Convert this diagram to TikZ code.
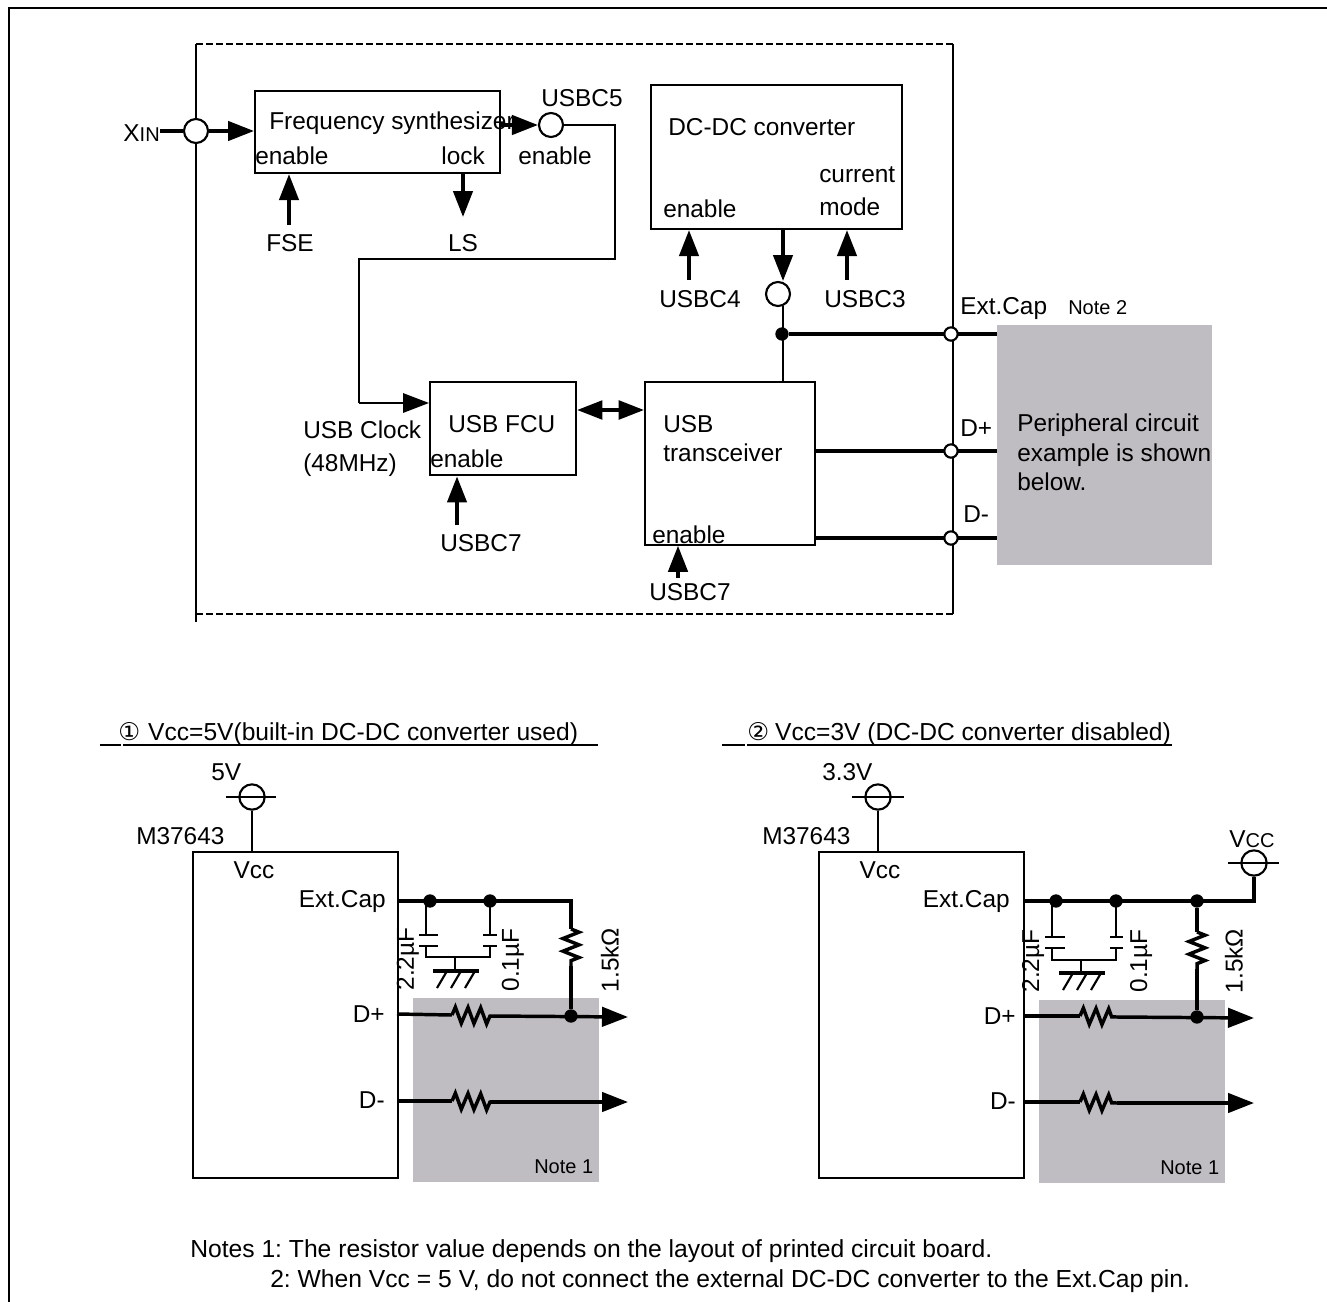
\documentclass[tikz,border=0pt]{standalone}
\usepackage{fontspec}
\setmainfont{Liberation Sans}
\newfontfamily\symfont{DejaVu Sans}
\usepackage{xcolor}
\usetikzlibrary{arrows.meta,positioning,calc,decorations.pathmorphing}
\definecolor{ink}{HTML}{000000}
\definecolor{periphbg}{HTML}{C0BDC2}
\frenchspacing
\tikzset{
  wire/.style={draw=ink,line width=1.6pt},
  bus/.style={draw=ink,line width=2.6pt},
  sig/.style={bus,-{Triangle[length=19.5pt,width=14.5pt]}},
  blockbox/.style={wire,fill=white,rectangle,inner sep=0pt},
  pinring/.style={wire,fill=white,circle,inner sep=0pt,minimum size=18pt},
  portring/.style={wire,fill=white,circle,inner sep=0pt,minimum size=10pt},
  joint/.style={fill=ink,circle,inner sep=0pt,minimum size=10pt},
  txt/.style={inner sep=0pt,font=\fontsize{18.3}{22}\selectfont},
  small/.style={inner sep=0pt,font=\fontsize{15}{18}\selectfont},
  notetxt/.style={inner sep=0pt,font=\fontsize{18.5}{22}\selectfont},
  titletxt/.style={inner sep=0pt,font=\fontsize{18.45}{22}\selectfont},
  resistor/.style={bus,line join=miter,decorate,decoration={zigzag,segment length=9.5pt,amplitude=6pt}},
  graybox/.style={fill=periphbg,rectangle,inner sep=0pt}
}
\begin{document}
\begin{tikzpicture}[x=0.75pt,y=-0.75pt]
  \useasboundingbox (0,0) rectangle (1327,1302);
  \coordinate (ftl) at (9,8); \coordinate (ftr) at (1327,8);
  \coordinate (fbl) at (9,1302);
  \draw[draw=ink,line width=2.2pt] (fbl) -- (ftl) -- (ftr);

  % chip outline
  \coordinate (chiptl) at (196,44); \coordinate (chiptr) at (953,44);
  \coordinate (chipbl) at (196,622); \coordinate (chipbr) at (953,614);
  \coordinate (chipbd) at (196,614);
  \draw[wire] (chiptl) -- (chipbl);
  \draw[wire] (chiptr) -- (chipbr);
  \draw[wire,dash pattern=on 5pt off 2.5pt] (chiptl) -- (chiptr);
  \draw[wire,dash pattern=on 5pt off 2.5pt] (chipbd) -- (chipbr);

  % peripheral block
  \node[graybox,minimum width=161pt,minimum height=180pt,anchor=north west] (periph) at (997,325) {};
  \node[txt,anchor=west] (periphA) at (1017,425) {Peripheral circuit};
  \node[txt,anchor=west] (periphB) at (1017,455) {example is shown};
  \node[txt,anchor=west] (periphC) at (1017,482) {below.};

  % blocks
  \node[blockbox,minimum width=184pt,minimum height=61.5pt,anchor=north west] (fsynth) at (254,90) {};
  \node[blockbox,minimum width=188pt,minimum height=108pt,anchor=north west] (dcdc) at (650,84) {};
  \node[blockbox,minimum width=109.5pt,minimum height=70pt,anchor=north west] (fcu) at (429,381) {};
  \node[blockbox,minimum width=127.5pt,minimum height=122pt,anchor=north west] (xcvr) at (644,381) {};

  \node[txt,anchor=west] (fsynthname) at (269,123) {Frequency synthesizer};
  \node[txt,anchor=west] at (255,156) {enable};
  \node[txt,anchor=east] at (485,156) {lock};
  \node[txt,anchor=west] at (668,127) {DC-DC converter};
  \node[txt,anchor=west] at (663,209) {enable};
  \node[txt,anchor=west] at (819,175) {current};
  \node[txt,anchor=west] at (819,207) {mode};
  \node[txt,anchor=west] at (448,424) {USB FCU};
  \node[txt,anchor=west] at (430,459) {enable};
  \node[txt,anchor=west] at (663,424) {USB};
  \node[txt,anchor=west] at (663,453) {transceiver};
  \node[txt,anchor=west] at (652,535) {enable};

  % clock path
  \node[anchor=east,inner sep=0pt] (xin) at (160,133) {\fontsize{18.3}{22}\selectfont X\fontsize{15}{18}\selectfont IN};
  \node[pinring] (xinpin) at (196,131) {};
  \draw[bus] (xin.east |- xinpin) -- (xinpin);
  \draw[sig] (xinpin) -- (fsynth.west |- xinpin);
  \node[pinring] (c5pin) at (551,125) {};
  \draw[sig] (fsynth.east |- c5pin) -- (c5pin);
  \node[txt] (c5name) at (582,98) {USBC5};
  \node[txt] (c5en) at (555,156) {enable};
  \coordinate (clkA) at (615,125); \coordinate (clkB) at (615,259);
  \coordinate (clkC) at (359,259); \coordinate (clkD) at (359,403);
  \draw[wire] (c5pin) -- (clkA) -- (clkB) -- (clkC) -- (clkD);
  \draw[sig,line width=1.6pt] (clkD) -- (fcu.west |- clkD);
  \node[txt,anchor=west] (clkname) at (303,430) {USB Clock};
  \node[txt,anchor=west] (clkrate) at (303,465) {(48MHz)};

  \node[txt] (fse) at (290,243) {FSE};
  \node[txt] (ls) at (463,243) {LS};
  \coordinate (fsetail) at (289,225); \coordinate (lshead) at (463,217);
  \draw[sig] (fsetail) -- (fsetail |- fsynth.south);
  \draw[sig] (lshead |- fsynth.south) -- (lshead);

  % dc-dc converter pins
  \node[txt] (c4) at (700,299) {USBC4};
  \node[txt] (c3) at (865,299) {USBC3};
  \coordinate (c4tail) at (689,280); \coordinate (c3tail) at (847,280);
  \draw[sig] (c4tail) -- (c4tail |- dcdc.south);
  \draw[sig] (c3tail) -- (c3tail |- dcdc.south);
  \node[pinring] (dcpin) at (778,294) {};
  \coordinate (dchead) at (783,281);
  \draw[sig] (dchead |- dcdc.south) -- (dchead);

  % usb lines
  \node[joint] (extjoint) at (782,334) {};
  \coordinate (dcpinfoot) at (783,306);
  \draw[wire] (dcpinfoot) -- (dcpinfoot |- xcvr.north);
  \coordinate (extend) at (997,334); \coordinate (dpstart) at (815,451);
  \coordinate (dpend) at (997,451); \coordinate (dmstart) at (815,538);
  \coordinate (dmend) at (997,538);
  \draw[bus] (extjoint) -- (extend);
  \draw[bus] (dpstart) -- (dpend);
  \draw[bus] (dmstart) -- (dmend);
  \node[portring] (extport) at (951,334) {};
  \node[portring] (dpport) at (951,451) {};
  \node[portring] (dmport) at (951,538) {};
  \node[txt,anchor=west] at (960,309) {Ext.Cap};
  \node[small,anchor=west] at (1068,308) {Note 2};
  \node[txt,anchor=west] at (960,428) {D+};
  \node[txt,anchor=west] at (963,514) {D-};

  \draw[bus,{Triangle[length=19pt,width=14pt]}-{Triangle[length=19pt,width=14pt]}] (fcu.east |- 0,410) -- (xcvr.west |- 0,410);
  \coordinate (fcutail) at (457,525); \coordinate (xcvrtail) at (678,578);
  \draw[sig] (fcutail) -- (fcutail |- fcu.south);
  \draw[sig] (xcvrtail) -- (xcvrtail |- xcvr.south);
  \node[txt] (c7a) at (481,543) {USBC7};
  \node[txt] (c7b) at (690,592) {USBC7};

  % circuit 1
  \node[titletxt,anchor=west] (titleA) at (118,734) {{\symfont\fontsize{18.3}{22}\selectfont ①}\hspace{6pt}Vcc=5V(built-in DC-DC converter used)};
  \coordinate (ulAl) at (100,745); \coordinate (ulAm) at (121,745);
  \coordinate (ulAn) at (123,745); \coordinate (ulAr) at (598,745);
  \draw[wire] (ulAl) -- (ulAm);
  \draw[wire] (ulAn) -- (ulAr);
  \node[graybox,minimum width=139.5pt,minimum height=138pt,anchor=north west] (grayA) at (413,998) {};
  \node[blockbox,fill=none,minimum width=153.75pt,minimum height=244.5pt,anchor=north west] (chipA) at (192,851) {};
  \node[txt] at (254,870) {Vcc};
  \node[txt,anchor=west] at (136,836) {M37643};
  \node[txt,anchor=west] at (211,772) {5V};
  \node[pinring,minimum size=19pt] (vccA) at (252,797) {};
  \coordinate (vccAl) at (226,797); \coordinate (vccAr) at (276,797);
  \draw[wire] (vccAl) -- (vccAr);
  \draw[wire] (vccA) -- (vccA |- chipA.north);
  \node[txt,anchor=east] at (386,902) {Ext.Cap};
  \node[txt,anchor=east] at (385,1014) {D+};
  \node[txt,anchor=east] at (385,1100) {D-};
  \node[small,anchor=west] at (534,1167) {Note 1};

  \node[joint] (capAa) at (430,901) {};
  \node[joint] (capAb) at (490,901) {};
  \coordinate (capAstart) at (397,901); \coordinate (capAcorner) at (571,901);
  \coordinate (resAtop) at (571,929); \coordinate (resAbot) at (571,966);
  \node[joint] (dpAjoint) at (571,1016) {};
  \draw[bus] (capAstart) -- (capAcorner) -- (resAtop);
  \draw[resistor] (resAtop) -- (resAbot);
  \draw[bus] (resAbot) -- (dpAjoint);
  \coordinate (lcAtop) at (426,901); \coordinate (lcAbot) at (426,957);
  \coordinate (rcAtop) at (490,901); \coordinate (rcAbot) at (490,957);
  \coordinate (gndA) at (455,957);
  \draw[wire] (lcAtop) -- (426,935) (426,946) -- (lcAbot) -- (rcAbot) -- (490,946) (490,935) -- (rcAtop);
  \draw[wire] (419,935) -- (438,935) (419,946) -- (438,946);
  \draw[wire] (483,935) -- (497,935) (483,946) -- (497,946);
  \draw[wire] (gndA) -- (455,971);
  \draw[bus] (433,971) -- (479,971);
  \foreach \hx in {447,461,475} {\draw[wire] (\hx,971) -- (\hx-10,988);}
  \node[txt,rotate=90] at (408,959) {2.2µF};
  \node[txt,rotate=90] at (513,960) {0.1µF};
  \node[txt,rotate=90] at (610,960) {1.5kΩ};

  \coordinate (dpAa) at (397,1014); \coordinate (dpAb) at (452,1015);
  \coordinate (dpAc) at (490,1016); \coordinate (dpAd) at (628,1017);
  \coordinate (dmAa) at (397,1101); \coordinate (dmAb) at (452,1101);
  \coordinate (dmAc) at (490,1102); \coordinate (dmAd) at (628,1102);
  \draw[bus] (dpAa) -- (dpAb);
  \draw[resistor] (dpAb) -- (dpAc);
  \draw[sig] (dpAc) -- (dpAd);
  \draw[bus] (dmAa) -- (dmAb);
  \draw[resistor] (dmAb) -- (dmAc);
  \draw[sig] (dmAc) -- (dmAd);

  % circuit 2
  \node[titletxt,anchor=west] (titleB) at (747,734) {{\symfont\fontsize{18.3}{22}\selectfont ②}\hspace{4.5pt}Vcc=3V (DC-DC converter disabled)};
  \coordinate (ulBl) at (722,745); \coordinate (ulBm) at (745,745);
  \coordinate (ulBn) at (747,745); \coordinate (ulBr) at (1172,745);
  \draw[wire] (ulBl) -- (ulBm);
  \draw[wire] (ulBn) -- (ulBr);
  \node[graybox,minimum width=139.5pt,minimum height=137pt,anchor=north west] (grayB) at (1039,1000) {};
  \node[blockbox,fill=none,minimum width=153.75pt,minimum height=244.5pt,anchor=north west] (chipB) at (818,851) {};
  \node[txt] at (880,870) {Vcc};
  \node[txt,anchor=west] at (762,836) {M37643};
  \node[txt,anchor=west] at (822,772) {3.3V};
  \node[pinring,minimum size=19pt] (vccB) at (878,797) {};
  \coordinate (vccBl) at (852,797); \coordinate (vccBr) at (904,797);
  \draw[wire] (vccBl) -- (vccBr);
  \draw[wire] (vccB) -- (vccB |- chipB.north);
  \node[txt,anchor=east] at (1010,902) {Ext.Cap};
  \node[txt,anchor=east] at (1016,1016) {D+};
  \node[txt,anchor=east] at (1016,1101) {D-};
  \node[small,anchor=west] at (1160,1168) {Note 1};

  \node[anchor=center,inner sep=0pt] at (1252,839) {\fontsize{18.3}{22}\selectfont V\fontsize{15}{18}\selectfont CC};
  \node[pinring,minimum size=19pt] (vccC) at (1254,863) {};
  \coordinate (vccCl) at (1228,863); \coordinate (vccCr) at (1279,863);
  \draw[wire] (vccCl) -- (vccCr);
  \node[joint] (capBa) at (1056,901) {};
  \node[joint] (capBb) at (1116,901) {};
  \node[joint] (capBc) at (1197,901) {};
  \coordinate (capBstart) at (1024,901); \coordinate (capBcorner) at (1254,901);
  \draw[bus] (capBstart) -- (capBcorner) -- (vccC);
  \coordinate (resBtop) at (1197,932); \coordinate (resBbot) at (1197,969);
  \node[joint] (dpBjoint) at (1197,1017) {};
  \draw[bus] (capBc) -- (resBtop);
  \draw[resistor] (resBtop) -- (resBbot);
  \draw[bus] (resBbot) -- (dpBjoint);
  \coordinate (lcBtop) at (1052,901); \coordinate (lcBbot) at (1052,960);
  \coordinate (rcBtop) at (1116,901); \coordinate (rcBbot) at (1116,960);
  \coordinate (gndB) at (1081,960);
  \draw[wire] (lcBtop) -- (1052,937) (1052,948) -- (lcBbot) -- (rcBbot) -- (1116,948) (1116,937) -- (rcBtop);
  \draw[wire] (1045,937) -- (1065,937) (1045,948) -- (1065,948);
  \draw[wire] (1110,937) -- (1123,937) (1110,948) -- (1123,948);
  \draw[wire] (gndB) -- (1081,973);
  \draw[bus] (1059,973) -- (1105,973);
  \foreach \hx in {1073,1087,1101} {\draw[wire] (\hx,973) -- (\hx-10,990);}
  \node[txt,rotate=90] at (1033,961) {2.2µF};
  \node[txt,rotate=90] at (1141,961) {0.1µF};
  \node[txt,rotate=90] at (1234,961) {1.5kΩ};

  \coordinate (dpBa) at (1023,1016); \coordinate (dpBb) at (1080,1016);
  \coordinate (dpBc) at (1117,1017); \coordinate (dpBd) at (1254,1018);
  \coordinate (dmBa) at (1023,1102); \coordinate (dmBb) at (1080,1102);
  \coordinate (dmBc) at (1117,1103); \coordinate (dmBd) at (1254,1103);
  \draw[bus] (dpBa) -- (dpBb);
  \draw[resistor] (dpBb) -- (dpBc);
  \draw[sig] (dpBc) -- (dpBd);
  \draw[bus] (dmBa) -- (dmBb);
  \draw[resistor] (dmBb) -- (dmBc);
  \draw[sig] (dmBc) -- (dmBd);

  % notes
  \node[notetxt,anchor=west] (noteA) at (190,1251) {Notes 1: The resistor value depends on the layout of printed circuit board.};
  \node[notetxt,anchor=west] (noteB) at (270,1281) {2: When Vcc = 5 V, do not connect the external DC-DC converter to the Ext.Cap pin.};
\end{tikzpicture}
\end{document}
